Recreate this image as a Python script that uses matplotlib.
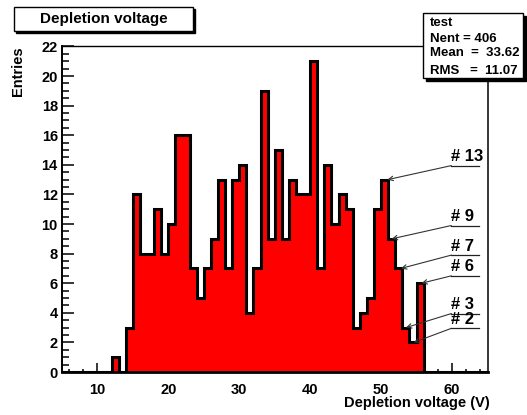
import numpy as np
import matplotlib
matplotlib.use('Agg')
import matplotlib.pyplot as plt
from matplotlib.patches import Rectangle
from matplotlib.ticker import MultipleLocator

plt.rcParams['font.family'] = ['Liberation Sans', 'DejaVu Sans']
plt.rcParams['font.weight'] = 'bold'

# histogram data: 1 V bins from 5 to 65
bin_edges = np.arange(5, 66)
counts = [0, 0, 0, 0, 0, 0, 0,            # 5-11
          1, 0, 3, 12, 8, 8, 11, 8, 10,   # 12-20
          16, 16, 7, 5, 7, 9, 13, 7, 13,  # 21-29
          14, 4, 7, 19, 9, 15, 9, 13, 12, # 30-38
          12, 21, 7, 14, 10, 12, 11, 3, 4,# 39-47
          5, 11, 13, 9, 7, 3, 2, 6,       # 48-55
          0, 0, 0, 0, 0, 0, 0, 0, 0]      # 56-64

# labelled modules (arrow tips on the histogram)
mod_labels = ['# 13', '# 9', '# 7', '# 6', '# 3', '# 2']
mod_tip_x = [50.9, 51.5, 52.8, 55.7, 53.5, 54.6]
mod_tip_y = [13, 9, 7, 6, 3, 2]
mod_label_y = [13.95, 9.9, 7.9, 6.5, 3.95, 2.95]

stats_lines = ['test', 'Nent = 406', 'Mean  =  33.62', 'RMS   =  11.07']

fig = plt.figure(figsize=(5.27, 4.15), dpi=100)
ax = fig.add_axes([62/527, 1 - 372/415, 425.5/527, 325.5/415])

ax.stairs(counts, bin_edges, fill=True, color='#ff0000', zorder=2)
ax.stairs(counts, bin_edges, color='black', lw=2.2, zorder=3)

ax.set_xlim(5, 65)
ax.set_ylim(0, 22)
ax.xaxis.set_major_locator(MultipleLocator(10))
ax.xaxis.set_minor_locator(MultipleLocator(2))
ax.yaxis.set_major_locator(MultipleLocator(2))
ax.yaxis.set_minor_locator(MultipleLocator(0.5))
ax.tick_params(axis='x', which='major', direction='in', length=6.5, width=1.1,
               labelsize=10.5, pad=8)
ax.tick_params(axis='x', which='minor', direction='in', length=2.5, width=1.1)
ax.tick_params(axis='y', which='major', direction='in', length=8.6, width=1.1,
               labelsize=10.5, pad=3)
ax.tick_params(axis='y', which='minor', direction='in', length=5, width=1.1)
for lab in ax.get_xticklabels() + ax.get_yticklabels():
    lab.set_fontweight('bold')

ax.spines['bottom'].set_linewidth(2)
ax.spines['left'].set_linewidth(1.4)
ax.spines['top'].set_linewidth(1)
ax.spines['right'].set_linewidth(1.1)

ax.set_xlabel('Depletion voltage (V)', loc='right', fontsize=10.5, fontweight='bold')
ax.xaxis.set_label_coords(1.006, -0.074)
ax.text(-0.103, 1.0, 'Entries', transform=ax.transAxes, rotation=90,
        ha='center', va='top', fontsize=10.5, fontweight='bold')

# arrows with underlined labels
for lab, tx, ty, ly in zip(mod_labels, mod_tip_x, mod_tip_y, mod_label_y):
    ax.annotate('', xy=(tx, ty), xytext=(59.9, ly),
                arrowprops=dict(arrowstyle='->', color='#333333', lw=0.8,
                                shrinkA=0, shrinkB=0, mutation_scale=8),
                zorder=5)
    ax.plot([59.9, 63.8], [ly, ly], color='#222222', lw=0.9, zorder=5)
    ax.annotate(lab, xy=(59.9, ly), xytext=(0, 1), textcoords='offset points',
                ha='left', va='bottom', fontsize=12, fontweight='bold', zorder=5)

# title box
fig.patches.append(Rectangle((16/527, 1 - 33/415), 179.3/527, 23.7/415,
                             transform=fig.transFigure, facecolor='black',
                             edgecolor='black', zorder=4))
fig.patches.append(Rectangle((14/527, 1 - 31/415), 179.3/527, 23.7/415,
                             transform=fig.transFigure, facecolor='white',
                             edgecolor='black', lw=1, zorder=5))
fig.text(103.7/527, 1 - 19/415, 'Depletion voltage', ha='center', va='center',
         fontsize=11, fontweight='bold', zorder=6)

# stats box
fig.patches.append(Rectangle((426/527, 1 - 81/415), 100/527, 65/415,
                             transform=fig.transFigure, facecolor='black',
                             edgecolor='black', zorder=4))
fig.patches.append(Rectangle((423.3/527, 1 - 78.3/415), 100/527, 65/415,
                             transform=fig.transFigure, facecolor='white',
                             edgecolor='black', lw=1, zorder=5))
for line, yp in zip(stats_lines, [22.7, 38.7, 53.3, 70.7]):
    fig.text(430/527, 1 - yp/415, line, ha='left', va='center',
             fontsize=9.5, fontweight='bold', zorder=6)

fig.savefig('out.png', dpi=100)
